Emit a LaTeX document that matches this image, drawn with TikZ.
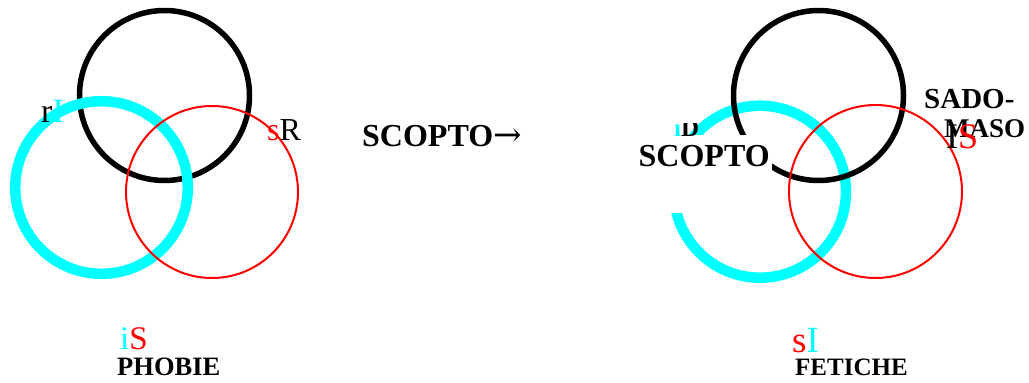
\documentclass[tikz,border=0pt]{standalone}
\usepackage{fontspec}
\setmainfont{Liberation Serif}
\newfontfamily\arrowfont{DejaVu Serif}
\definecolor{aqua}{RGB}{0,255,255}
\definecolor{vred}{RGB}{255,0,0}
\begin{document}
\begin{tikzpicture}[x=1pt,y=-1pt,
  ring/.style={line width=5.5pt, draw=black},
  cyring/.style={line width=10.5pt, draw=aqua},
  rdring/.style={line width=2pt, draw=vred},
  lab/.style={inner sep=0pt, anchor=base west, font=\fontsize{#1}{#1}\selectfont},
  blab/.style={inner sep=0pt, anchor=base west, font=\fontsize{#1}{#1}\selectfont\bfseries}]
\useasboundingbox (0,0) rectangle (1029,383);
% left diagram
\draw[ring] (164.5,95.5) circle[radius=85];
\draw[cyring] (101.5,187.5) circle[radius=86.3];
\draw[rdring] (212,192) circle[radius=86];
\node[lab=34] (rI) at (41,122) {r\textcolor{aqua}{I}};
\node[lab=32] (sR) at (267,140) {\textcolor{vred}{s}R};
\node[blab=32] (scopto1) at (362,146) {SCOPTO{\arrowfont\mdseries\fontsize{34}{34}\selectfont →}};
\node[lab=33] (iS) at (120,349) {\textcolor{aqua}{i}\textcolor{vred}{S}};
\node[blab=26.5] (phobie) at (117,375) {PHOBIE};
% right diagram
\draw[cyring] (760,191.7) circle[radius=86];
\fill[white] (660,172) rectangle (702,213);
\draw[ring] (818.5,95.5) circle[radius=85];
\draw[rdring] (875.5,191.5) circle[radius=86.5];
\node[blab=32, fill=white, inner xsep=2.5pt, text height=31pt, text depth=9pt] (scopto2) at (636,166) {SCOPTO};
\begin{scope}
  \clip (660,123) rectangle (715,140);
  \node[blab=25] (iD) at (674,136) {\textcolor{aqua}{i}D};
\end{scope}
\node[blab=29] (sado) at (924,108) {SADO-};
\node[blab=27] (maso) at (944,137) {MASO};
\node[lab=36] (IS) at (946,148) {I\textcolor{vred}{S}};
\node[lab=37] (sI) at (792,352) {\textcolor{vred}{s}\textcolor{aqua}{I}};
\node[blab=25] (fetiche) at (795,375) {FETICHE};
\end{tikzpicture}
\end{document}
